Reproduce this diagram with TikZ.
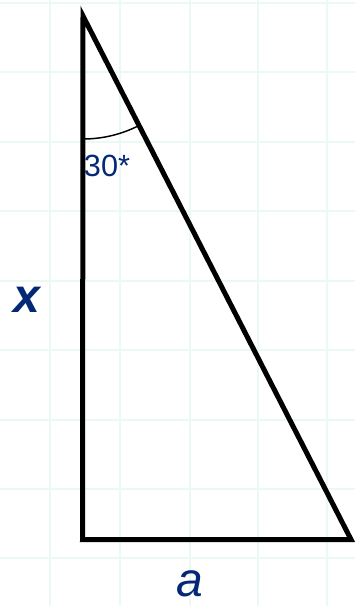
\documentclass[tikz,border=0pt]{standalone}
\usepackage{fontspec}
\setmainfont{Liberation Sans}
\usetikzlibrary{calc}
\definecolor{labelNavy}{RGB}{4,40,118}
\definecolor{gridMint}{RGB}{236,248,246}
\tikzset{
  side line/.style={line width=3.75pt,draw=black,line join=miter},
  angle arc/.style={line width=1.1pt,draw=black},
  side label/.style={font=\fontsize{36}{40}\selectfont\itshape,text=labelNavy,inner sep=0pt},
  angle label/.style={font=\fontsize{23}{26}\selectfont,text=labelNavy,inner sep=0pt},
  paper grid/.style={draw=gridMint,line width=1.5pt}
}
\begin{document}
\begin{tikzpicture}[x=.75pt,y=-.75pt]
  \useasboundingbox (0,0) rectangle (355,606);
  % faint squared paper
  \foreach \gx in {50,120,190,258,327} \draw[paper grid] (\gx,0) -- (\gx,606);
  \foreach \gy in {3,72,142,211,281,350,420,489,558} \draw[paper grid] (0,\gy) -- (355,\gy);
  % the triangle
  \coordinate (apex) at (83,16);
  \coordinate (corner) at (82.5,539.5);
  \coordinate (foot) at (351,539.5);
  \draw[side line] (apex) -- (corner) -- (foot) -- cycle;
  \draw[angle arc] ([shift={(90:123)}]apex) arc[start angle=90,end angle=63,radius=123];
  \node[angle label] (angle) at (107,166) {30*};
  \node[side label,font=\fontsize{36}{40}\selectfont\bfseries\itshape] (height) at (27,300) {x};
  \node[side label] (base) at (190,584) {a};
\end{tikzpicture}
\end{document}
